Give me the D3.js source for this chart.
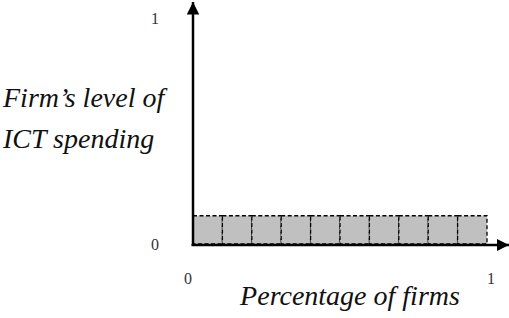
<!DOCTYPE html>
<html>
<head>
<meta charset="utf-8">
<script src="https://cdn.jsdelivr.net/npm/d3@7"></script>
<style>
  body { margin: 0; background: #fff; }
  svg { display: block; }
</style>
</head>
<body>
<div class="chart"></div>
<script>
const W = 509, H = 318;

// data
const firms = ["f1", "f2", "f3", "f4", "f5", "f6", "f7", "f8", "f9", "f10"];
const spending = [0.125, 0.125, 0.125, 0.125, 0.125, 0.125, 0.125, 0.125, 0.125, 0.125];
const xTicks = [0, 1];
const yTicks = [0, 1];
const yLabel = ["Firm\u2019s level of", "ICT spending"];
const xLabel = "Percentage of firms";

const serif = "Liberation Serif";

const svg = d3.select(".chart").append("svg")
    .attr("width", W)
    .attr("height", H);

// scales
const x = d3.scaleLinear().domain([0, 1]).range([193, 487]);
const y = d3.scaleLinear().domain([0, 1]).range([244, 18]);
const xb = d3.scaleBand().domain(firms).range([x(0), x(1)]).padding(0);

// arrow marker
svg.append("defs").append("marker")
    .attr("id", "arrow")
    .attr("viewBox", "0 0 10 10")
    .attr("refX", 10).attr("refY", 5)
    .attr("markerWidth", 5).attr("markerHeight", 5)
    .attr("markerUnits", "strokeWidth")
    .attr("orient", "auto")
    .append("path")
    .attr("d", "M0,0 L10,5 L0,10 z")
    .attr("fill", "#000");

// bars
svg.selectAll(".bar")
    .data(spending)
    .enter().append("rect")
    .attr("class", "bar")
    .attr("x", (d, i) => xb(firms[i]))
    .attr("width", xb.bandwidth())
    .attr("y", d => y(d))
    .attr("height", d => y(0) - y(d))
    .attr("fill", "#c0c0c0")
    .attr("stroke", "#000")
    .attr("stroke-width", 1.3)
    .attr("stroke-dasharray", "4,2.5");

// axes
svg.append("line")
    .attr("x1", x(0)).attr("y1", y(0) + 1.5)
    .attr("x2", x(0)).attr("y2", 2)
    .attr("stroke", "#000").attr("stroke-width", 2.5)
    .attr("marker-end", "url(#arrow)");

svg.append("line")
    .attr("x1", x(0) - 1.5).attr("y1", y(0) + 1)
    .attr("x2", 509).attr("y2", y(0) + 1)
    .attr("stroke", "#000").attr("stroke-width", 2.5)
    .attr("marker-end", "url(#arrow)");

// tick labels
svg.selectAll(".ytick")
    .data(yTicks)
    .enter().append("text")
    .attr("class", "ytick")
    .attr("x", 155)
    .attr("y", d => y(d) + 6)
    .attr("text-anchor", "middle")
    .attr("font-family", serif)
    .attr("font-size", 16)
    .attr("fill", "#333")
    .text(d => d);

svg.selectAll(".xtick")
    .data(xTicks)
    .enter().append("text")
    .attr("class", "xtick")
    .attr("x", d => d === 0 ? 188 : 491)
    .attr("y", 284)
    .attr("text-anchor", "middle")
    .attr("font-family", serif)
    .attr("font-size", 16)
    .attr("fill", "#333")
    .text(d => d);

// axis titles
svg.selectAll(".ylab")
    .data(yLabel)
    .enter().append("text")
    .attr("class", "ylab")
    .attr("x", 3)
    .attr("y", (d, i) => 107 + i * 41)
    .attr("font-family", serif)
    .attr("font-style", "italic")
    .attr("font-size", 28)
    .attr("fill", "#111")
    .text(d => d);

svg.append("text")
    .attr("x", 350)
    .attr("y", 305)
    .attr("text-anchor", "middle")
    .attr("font-family", serif)
    .attr("font-style", "italic")
    .attr("font-size", 28)
    .attr("fill", "#111")
    .text(xLabel);
</script>
</body>
</html>
